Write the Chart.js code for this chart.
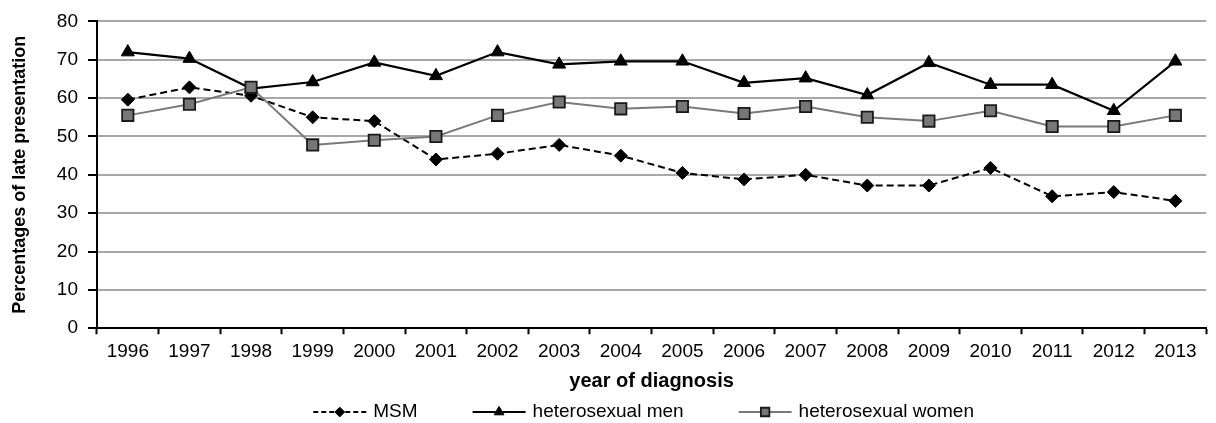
<!DOCTYPE html>
<html>
<head>
<meta charset="utf-8">
<script src="https://cdn.jsdelivr.net/npm/chart.js@4.4.1/dist/chart.umd.min.js"></script>
<style>
  html, body { margin: 0; padding: 0; background: #fff; }
  #wrap { width: 1216px; height: 423px; }
</style>
</head>
<body>
<div id="wrap"><canvas id="lateChart"></canvas></div>
<script>
const years = ['1996', '1997', '1998', '1999', '2000', '2001', '2002', '2003', '2004',
    '2005', '2006', '2007', '2008', '2009', '2010', '2011', '2012', '2013'];

const msm = [59.6, 62.8, 60.6, 55.0, 54.0, 44.0, 45.5, 47.8, 45.0,
    40.5, 38.8, 40.0, 37.2, 37.2, 41.8, 34.4, 35.5, 33.2];
const hetMen = [72.0, 70.3, 62.5, 64.2, 69.3, 65.8, 72.0, 68.8, 69.6,
    69.6, 64.0, 65.2, 60.8, 69.2, 63.5, 63.5, 56.7, 69.6];
const hetWomen = [55.5, 58.4, 62.8, 47.8, 49.0, 50.0, 55.5, 59.0, 57.2,
    57.8, 56.0, 57.8, 55.0, 54.0, 56.7, 52.6, 52.6, 55.5];

const yTicks = [0, 10, 20, 30, 40, 50, 60, 70, 80];

const FONT = '"Liberation Sans", Arial, sans-serif';

// spreadsheet style legend: short line with the marker in the middle
const sampleLegend = {
    id: 'sampleLegend',
    afterDraw(chart) {
        const ctx = chart.ctx;
        const sampleW = 53, textGap = 7, itemGap = 55, y = 412;
        ctx.save();
        ctx.font = '19px ' + FONT;
        const items = chart.data.datasets.map((ds) => ({ ds: ds, textW: ctx.measureText(ds.label).width }));
        let total = itemGap * (items.length - 1);
        items.forEach((it) => { total += sampleW + textGap + it.textW; });
        let x = (chart.chartArea.left + chart.chartArea.right) / 2 - total / 2 - 8;

        items.forEach(({ ds, textW }) => {
            ctx.strokeStyle = ds.borderColor;
            ctx.lineWidth = ds.borderWidth;
            ctx.setLineDash(ds.borderDash ? [5, 3] : []);
            ctx.beginPath();
            ctx.moveTo(x, y);
            ctx.lineTo(x + sampleW, y);
            ctx.stroke();
            ctx.setLineDash([]);

            ctx.fillStyle = ds.pointBackgroundColor;
            ctx.strokeStyle = ds.pointBorderColor;
            ctx.lineWidth = ds.pointBorderWidth;
            Chart.helpers.drawPoint(ctx, {
                pointStyle: ds.pointStyle,
                radius: ds.pointRadius * 0.75,
                rotation: 0,
                borderWidth: ds.pointBorderWidth,
            }, x + sampleW / 2, y);

            ctx.fillStyle = '#000';
            ctx.textAlign = 'left';
            ctx.textBaseline = 'middle';
            ctx.fillText(ds.label, x + sampleW + textGap, y);
            x += sampleW + textGap + textW + itemGap;
        });
        ctx.restore();
    },
};

const ctx = document.getElementById('lateChart').getContext('2d');

new Chart(ctx, {
    type: 'line',
    data: {
        labels: years,
        datasets: [
            {
                label: 'MSM',
                data: msm,
                borderColor: '#000',
                borderWidth: 2,
                borderDash: [7, 4],
                pointStyle: 'rectRot',
                pointRadius: 6.5,
                pointBackgroundColor: '#000',
                pointBorderColor: '#000',
                pointBorderWidth: 1,
                tension: 0,
                order: 1,
            },
            {
                label: 'heterosexual men',
                data: hetMen,
                borderColor: '#000',
                borderWidth: 2.2,
                pointStyle: 'triangle',
                pointRadius: 7.5,
                pointBackgroundColor: '#000',
                pointBorderColor: '#000',
                pointBorderWidth: 1,
                tension: 0,
                order: 1,
            },
            {
                label: 'heterosexual women',
                data: hetWomen,
                borderColor: '#7a7a7a',
                borderWidth: 2,
                pointStyle: 'rect',
                pointRadius: 8,
                pointBackgroundColor: '#777',
                pointBorderColor: '#1a1a1a',
                pointBorderWidth: 1.8,
                tension: 0,
                order: 0,
            },
        ],
    },
    options: {
        responsive: true,
        maintainAspectRatio: false,
        animation: false,
        layout: {
            padding: { top: 20, right: 0, bottom: 30, left: 0 },
        },
        scales: {
            x: {
                offset: true,
                grid: {
                    offset: true,
                    drawOnChartArea: false,
                    drawTicks: true,
                    tickLength: 6,
                    tickColor: '#000',
                    tickWidth: 2,
                },
                border: { color: '#000', width: 2 },
                ticks: {
                    color: '#000',
                    padding: 11.5,
                    maxRotation: 0,
                    font: { family: FONT, size: 19, lineHeight: 0.62 },
                },
                title: {
                    display: true,
                    text: 'year of diagnosis',
                    color: '#000',
                    padding: { top: 0, bottom: 0 },
                    font: { family: FONT, size: 20, weight: 'bold' },
                },
            },
            y: {
                min: 0,
                max: 80,
                afterFit(scale) {
                    scale.width = 97;
                },
                afterBuildTicks(scale) {
                    scale.ticks = yTicks.map((v) => ({ value: v }));
                },
                grid: {
                    color: '#a8a8a8',
                    lineWidth: 2,
                    drawTicks: true,
                    tickLength: 9,
                    tickColor: '#000',
                    tickWidth: 2,
                },
                border: { color: '#000', width: 2 },
                ticks: {
                    color: '#000',
                    padding: 10,
                    font: { family: FONT, size: 19 },
                },
                title: {
                    display: true,
                    text: 'Percentages of late presentation',
                    color: '#000',
                    padding: { top: 9, bottom: 0 },
                    font: { family: FONT, size: 18, weight: 'bold' },
                },
            },
        },
        plugins: {
            legend: { display: false },
            tooltip: { enabled: false },
        },
    },
    plugins: [sampleLegend],
});
</script>
</body>
</html>
